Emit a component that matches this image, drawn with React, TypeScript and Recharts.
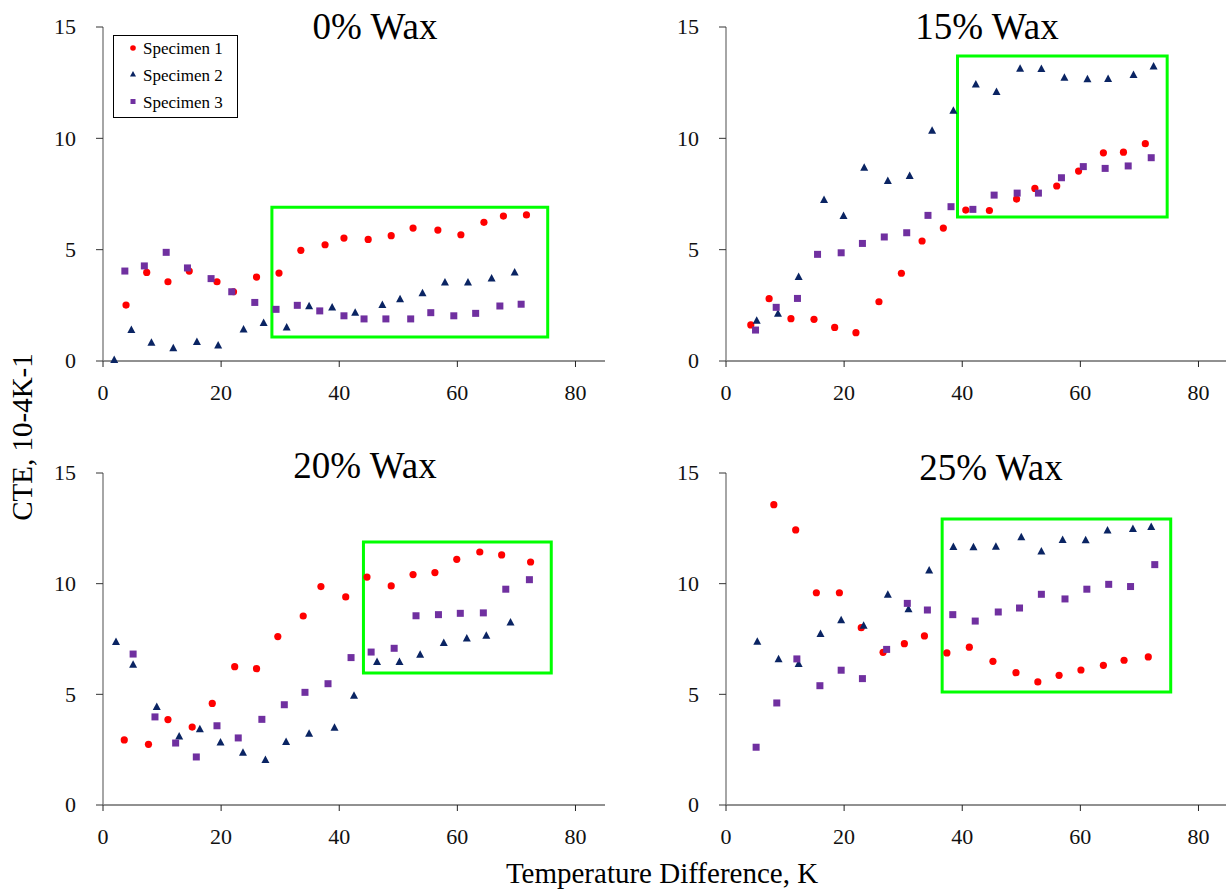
import React from 'react';
import {
  ScatterChart,
  Scatter,
  XAxis,
  YAxis,
  ReferenceArea,
} from 'recharts';

type Pair = [number, number];

// values (x = temperature difference K, y = CTE)
const wax0S1: Pair[] = [[3.9, 2.51], [7.4, 3.98], [11.0, 3.56], [14.6, 4.04], [19.3, 3.56], [22.1, 3.11], [26.0, 3.77], [29.8, 3.95], [33.5, 4.97], [37.6, 5.22], [40.8, 5.52], [44.9, 5.46], [48.8, 5.63], [52.5, 5.97], [56.7, 5.88], [60.6, 5.67], [64.5, 6.23], [67.8, 6.51], [71.7, 6.56]];
const wax0S2: Pair[] = [[1.9, 0.04], [4.8, 1.39], [8.2, 0.82], [11.9, 0.57], [15.9, 0.85], [19.5, 0.7], [23.8, 1.41], [27.2, 1.71], [31.1, 1.51], [34.9, 2.46], [38.8, 2.4], [42.7, 2.17], [47.3, 2.51], [50.3, 2.77], [54.1, 3.04], [57.9, 3.52], [61.8, 3.52], [65.8, 3.7], [69.7, 3.97]];
const wax0S3: Pair[] = [[3.7, 4.04], [7.0, 4.27], [10.7, 4.88], [14.3, 4.18], [18.3, 3.7], [21.8, 3.11], [25.7, 2.63], [29.3, 2.32], [32.9, 2.5], [36.7, 2.25], [40.8, 2.03], [44.2, 1.89], [47.9, 1.89], [52.1, 1.89], [55.5, 2.17], [59.4, 2.03], [63.1, 2.14], [67.2, 2.47], [70.8, 2.55]];

const wax15S1: Pair[] = [[4.2, 1.62], [7.3, 2.8], [11.0, 1.9], [14.9, 1.87], [18.4, 1.51], [22.0, 1.27], [25.9, 2.66], [29.7, 3.94], [33.2, 5.39], [36.8, 5.97], [40.6, 6.78], [44.6, 6.76], [49.2, 7.27], [52.3, 7.75], [56.0, 7.86], [59.7, 8.53], [63.9, 9.35], [67.3, 9.38], [71.0, 9.76]];
const wax15S2: Pair[] = [[5.2, 1.81], [8.8, 2.12], [12.3, 3.77], [16.6, 7.23], [19.9, 6.51], [23.4, 8.68], [27.4, 8.08], [31.1, 8.31], [34.9, 10.34], [38.5, 11.24], [42.3, 12.42], [45.8, 12.08], [49.8, 13.13], [53.4, 13.11], [57.3, 12.72], [61.2, 12.65], [64.7, 12.66], [69.0, 12.84], [72.4, 13.23]];
const wax15S3: Pair[] = [[5.0, 1.39], [8.5, 2.41], [12.1, 2.81], [15.5, 4.79], [19.5, 4.86], [23.1, 5.28], [26.8, 5.57], [30.6, 5.76], [34.2, 6.54], [38.1, 6.93], [41.8, 6.81], [45.4, 7.45], [49.3, 7.54], [52.9, 7.54], [56.8, 8.23], [60.5, 8.73], [64.2, 8.65], [68.1, 8.76], [72.0, 9.13]];

const wax20S1: Pair[] = [[3.6, 2.94], [7.7, 2.74], [11.0, 3.86], [15.1, 3.52], [18.5, 4.59], [22.3, 6.25], [26.0, 6.16], [29.6, 7.61], [33.9, 8.54], [36.9, 9.87], [41.1, 9.4], [44.7, 10.3], [48.8, 9.9], [52.5, 10.41], [56.2, 10.5], [59.9, 11.1], [63.8, 11.43], [67.5, 11.3], [72.4, 10.98]];
const wax20S2: Pair[] = [[2.2, 7.37], [5.1, 6.34], [9.1, 4.43], [12.9, 3.1], [16.4, 3.42], [19.9, 2.82], [23.7, 2.36], [27.5, 2.03], [31.0, 2.85], [34.9, 3.22], [39.2, 3.49], [42.5, 4.94], [46.4, 6.46], [50.2, 6.46], [53.7, 6.79], [57.7, 7.32], [61.6, 7.52], [64.9, 7.65], [69.0, 8.24]];
const wax20S3: Pair[] = [[5.1, 6.82], [8.8, 3.98], [12.3, 2.8], [15.8, 2.17], [19.3, 3.58], [22.9, 3.03], [26.9, 3.87], [30.7, 4.53], [34.2, 5.09], [38.1, 5.48], [42.0, 6.66], [45.4, 6.91], [49.3, 7.08], [53.0, 8.55], [56.8, 8.6], [60.5, 8.66], [64.4, 8.68], [68.2, 9.75], [72.2, 10.18]];

const wax25S1: Pair[] = [[8.1, 13.57], [11.8, 12.43], [15.3, 9.59], [19.2, 9.59], [22.9, 8.01], [26.6, 6.9], [30.2, 7.29], [33.6, 7.64], [37.4, 6.87], [41.2, 7.13], [45.2, 6.49], [49.1, 5.98], [52.8, 5.56], [56.4, 5.86], [60.1, 6.1], [63.9, 6.31], [67.4, 6.54], [71.5, 6.69]];
const wax25S2: Pair[] = [[5.3, 7.38], [8.9, 6.58], [12.3, 6.37], [16.0, 7.73], [19.5, 8.35], [23.3, 8.1], [27.4, 9.5], [30.9, 8.84], [34.4, 10.59], [38.5, 11.66], [41.9, 11.64], [45.7, 11.67], [50.0, 12.1], [53.4, 11.45], [57.0, 11.97], [60.9, 11.96], [64.6, 12.4], [68.9, 12.47], [72.0, 12.56]];
const wax25S3: Pair[] = [[5.1, 2.61], [8.6, 4.61], [12.0, 6.6], [15.9, 5.39], [19.5, 6.09], [23.1, 5.71], [27.2, 7.03], [30.7, 9.11], [34.1, 8.81], [38.4, 8.6], [42.2, 8.31], [46.1, 8.72], [49.7, 8.9], [53.4, 9.52], [57.4, 9.31], [61.1, 9.75], [64.8, 9.97], [68.5, 9.87], [72.6, 10.86]];

// highlighted regions [x1, x2, y1, y2]
const wax0Box = [28.6, 75.3, 1.08, 6.9];
const wax15Box = [39.2, 74.7, 6.47, 13.7];
const wax20Box = [44.1, 75.9, 5.96, 11.88];
const wax25Box = [36.6, 75.3, 5.1, 12.92];

const xTicks = [0, 20, 40, 60, 80];
const yTicks = [0, 5, 10, 15];
const seriesNames = ['Specimen 1', 'Specimen 2', 'Specimen 3'];

const FONT = "'Liberation Serif', 'Times New Roman', serif";
const RED = '#ff0000';
const NAVY = '#0a2463';
const PURPLE = '#7030a0';
const GREEN = '#00ff00';

const toPts = (arr: Pair[]) => arr.map(([x, y]) => ({ x, y }));

const Dot = (p: any) => <circle cx={p.cx} cy={p.cy} r={3.6} fill={RED} />;
const Tri = (p: any) => (
  <polygon points={`${p.cx},${p.cy - 4.5} ${p.cx + 4},${p.cy + 3} ${p.cx - 4},${p.cy + 3}`} fill={NAVY} />
);
const Sq = (p: any) => <rect x={p.cx - 3.5} y={p.cy - 3.5} width={7} height={7} fill={PURPLE} />;

// serif tick labels (recharts' own tick text ignores the font)
const XTick = (p: any) => (
  <text x={p.x} y={p.y} dy="0.71em" textAnchor="middle" fontFamily={FONT} fontSize={22} fill="#111">
    {p.payload.value}
  </text>
);
const YTick = (p: any) => (
  <text x={p.x} y={p.y} dy="0.34em" textAnchor="end" fontFamily={FONT} fontSize={22} fill="#111">
    {p.payload.value}
  </text>
);

const panels = [
  { key: 'w0', title: '0% Wax', s1: wax0S1, s2: wax0S2, s3: wax0S3, box: wax0Box, left: 0, top: 0, width: 613, height: 445, margin: { top: 27, right: 8, bottom: 44, left: 53 }, tx: 375, ty: 39 },
  { key: 'w15', title: '15% Wax', s1: wax15S1, s2: wax15S2, s3: wax15S3, box: wax15Box, left: 613, top: 0, width: 620, height: 445, margin: { top: 27, right: 5, bottom: 44, left: 63 }, tx: 987, ty: 39 },
  { key: 'w20', title: '20% Wax', s1: wax20S1, s2: wax20S2, s3: wax20S3, box: wax20Box, left: 0, top: 445, width: 613, height: 446, margin: { top: 28, right: 8, bottom: 46, left: 53 }, tx: 365, ty: 478 },
  { key: 'w25', title: '25% Wax', s1: wax25S1, s2: wax25S2, s3: wax25S3, box: wax25Box, left: 613, top: 445, width: 620, height: 446, margin: { top: 28, right: 5, bottom: 46, left: 63 }, tx: 991, ty: 480 },
];

const Panel = ({ p }: { p: typeof panels[number] }) => (
  <div style={{ position: 'absolute', left: p.left, top: p.top }}>
    <ScatterChart width={p.width} height={p.height} margin={p.margin}>
      <XAxis
        type="number"
        dataKey="x"
        domain={[0, 85]}
        ticks={xTicks}
        height={40}
        stroke="#222"
        tickSize={6}
        tickMargin={17}
        tick={XTick}
      />
      <YAxis
        type="number"
        dataKey="y"
        domain={[0, 15]}
        ticks={yTicks}
        width={50}
        axisLine={{ stroke: '#888', strokeWidth: 1.5 }}
        tickLine={{ stroke: '#333' }}
        tickSize={7}
        tickMargin={20}
        tick={YTick}
      />
      <ReferenceArea
        x1={p.box[0]}
        x2={p.box[1]}
        y1={p.box[2]}
        y2={p.box[3]}
        fill="none"
        fillOpacity={0}
        stroke={GREEN}
        strokeWidth={3}
      />
      <Scatter name={seriesNames[0]} data={toPts(p.s1)} shape={Dot} isAnimationActive={false} />
      <Scatter name={seriesNames[1]} data={toPts(p.s2)} shape={Tri} isAnimationActive={false} />
      <Scatter name={seriesNames[2]} data={toPts(p.s3)} shape={Sq} isAnimationActive={false} />
    </ScatterChart>
  </div>
);

export default function App() {
  return (
    <div style={{ position: 'absolute', left: 0, top: 0, width: 1226, height: 891, overflow: 'hidden', background: '#fff' }}>
      {panels.map((p) => (
        <Panel key={p.key} p={p} />
      ))}
      <svg width={1226} height={891} style={{ position: 'absolute', left: 0, top: 0, pointerEvents: 'none' }}>
        {panels.map((p) => (
          <text key={p.key} x={p.tx} y={p.ty} textAnchor="middle" fontFamily={FONT} fontSize={37} fill="#000">
            {p.title}
          </text>
        ))}
        <text x={662} y={883} textAnchor="middle" fontFamily={FONT} fontSize={29} fill="#000">
          Temperature Difference, K
        </text>
        <text transform="translate(32,437) rotate(-90)" textAnchor="middle" fontFamily={FONT} fontSize={29} fill="#000">
          CTE, 10-4K-1
        </text>
        {/* legend */}
        <rect x={113.5} y={35.5} width={124} height={82} fill="#fff" stroke="#000" strokeWidth={1} />
        <circle cx={133} cy={48} r={2.8} fill={RED} />
        <polygon points="133,71 136,76.5 130,76.5" fill={NAVY} />
        <rect x={130.5} y={99} width={5} height={5} fill={PURPLE} />
        {seriesNames.map((n, i) => (
          <text key={n} x={143} y={54 + i * 27} fontFamily={FONT} fontSize={17} fill="#000">
            {n}
          </text>
        ))}
      </svg>
    </div>
  );
}
